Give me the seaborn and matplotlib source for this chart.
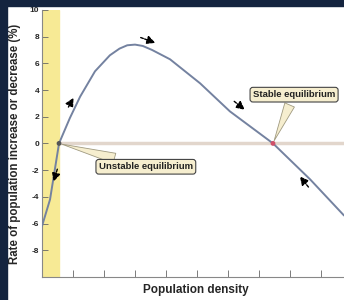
import numpy as np
import pandas as pd
import matplotlib
matplotlib.use('Agg')
import matplotlib.pyplot as plt
from matplotlib.patches import Rectangle
import seaborn as sns

# ----- Data -----
density = [0.0, 0.26, 0.55, 0.90, 1.23, 1.71, 2.19, 2.50, 2.75, 3.0, 3.25,
           3.55, 4.13, 5.10, 6.06, 7.45, 8.65, 9.74]
rate = [-6.2, -4.2, 0.0, 1.9, 3.5, 5.4, 6.6, 7.1, 7.35, 7.4, 7.3,
        7.0, 6.3, 4.5, 2.4, 0.0, -2.7, -5.4]

eq_density = [0.55, 7.45]
eq_rate = [0.0, 0.0]
eq_names = ['Unstable equilibrium', 'Stable equilibrium']

# direction arrows: (tail x, tail y, head x, head y)
arrows = [(0.81, 2.54, 1.06, 3.6),
          (0.52, -1.73, 0.35, -3.06),
          (3.1, 8.0, 3.74, 7.46),
          (6.13, 3.28, 6.61, 2.39),
          (8.65, -3.43, 8.26, -2.31)]

yticks = [10, 8, 6, 4, 2, 0, -2, -4, -6, -8]
xticks = list(range(0, 10))

df = pd.DataFrame({'density': density, 'rate': rate})
eq = pd.DataFrame({'density': eq_density, 'rate': eq_rate, 'kind': eq_names})

sns.set_style('white')
plt.rcParams['font.family'] = ['Liberation Sans', 'DejaVu Sans']

fig = plt.figure(figsize=(3.44, 3.0), dpi=100)
ax = fig.add_axes([0.122, 0.077, 0.878, 0.89])

# dark frame on top and left
fig.patches.append(Rectangle((0, 0.98), 1, 0.02, transform=fig.transFigure,
                             color='#14243f', zorder=0))
fig.patches.append(Rectangle((0, 0), 0.021, 1, transform=fig.transFigure,
                             color='#14243f', zorder=0))

ax.axvspan(0, eq_density[0], color='#f7ea95', zorder=0)
ax.plot([eq_density[0], 10], [0, 0], color='#e2d6cc', lw=2.5, zorder=1)

sns.lineplot(data=df, x='density', y='rate', ax=ax, color='#7482a0',
             lw=1.4, sort=False, zorder=3)
sns.scatterplot(data=eq, x='density', y='rate', hue='kind', ax=ax,
                palette=['#555555', '#d0506a'], s=12, legend=False, zorder=4,
                edgecolor='none')

for x0, y0, x1, y1 in arrows:
    ax.annotate('', xy=(x1, y1), xytext=(x0, y0),
                arrowprops=dict(arrowstyle='-|>,head_length=0.5,head_width=0.25',
                                color='black', lw=1.0, linestyle=(0, (2, 1))),
                zorder=5)

box = dict(boxstyle='round,pad=0.3', fc='#f6eecf', ec='#444444', lw=0.8)
wedge = dict(arrowstyle='wedge,tail_width=1.1,shrink_factor=0.5',
             fc='#f6eecf', ec='#a09a80', lw=0.6)
ax.annotate(eq_names[0], xy=(eq_density[0], eq_rate[0]), xytext=(3.35, -1.75),
            ha='center', va='center', fontsize=6.8, fontweight='bold',
            color='#222222', bbox=box, arrowprops=wedge)
ax.annotate(eq_names[1], xy=(eq_density[1], eq_rate[1]), xytext=(8.13, 3.65),
            ha='center', va='center', fontsize=6.8, fontweight='bold',
            color='#222222', bbox=box, arrowprops=wedge)

ax.set_xlim(0, 9.74)
ax.set_ylim(-10, 10)
ax.set_yticks(yticks)
ax.set_yticklabels([str(t) for t in yticks], fontsize=6, fontweight='bold')
ax.set_xticks(xticks)
ax.set_xticklabels([])
ax.tick_params(axis='both', direction='in', length=4, width=0.6,
               color='#666666', pad=2, left=True, bottom=True)
ax.tick_params(axis='x', length=5)

for s in ['top', 'right']:
    ax.spines[s].set_visible(False)
for s in ['left', 'bottom']:
    ax.spines[s].set_color('#888888')
    ax.spines[s].set_linewidth(0.8)

ax.set_xlabel('Population density', fontsize=8.5, fontweight='bold')
ax.xaxis.set_label_coords(0.51, -0.025)
ax.set_ylabel('Rate of population increase or decrease (%)', fontsize=8.3,
              fontweight='bold')
ax.yaxis.set_label_coords(-0.07, 0.5)

fig.savefig('out.png', dpi=100)
